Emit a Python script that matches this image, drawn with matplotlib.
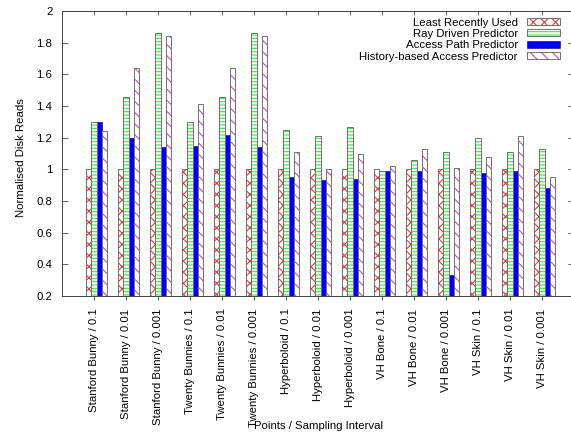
import matplotlib
matplotlib.use('Agg')
import matplotlib.pyplot as plt
from matplotlib.legend_handler import HandlerTuple
import numpy as np

plt.rcParams['font.family'] = ['Liberation Sans', 'DejaVu Sans']
plt.rcParams['hatch.linewidth'] = 0.8

# Datasets / sampling intervals
etiquetas = ['Stanford Bunny / 0.1', 'Stanford Bunny / 0.01', 'Stanford Bunny / 0.001',
             'Twenty Bunnies / 0.1', 'Twenty Bunnies / 0.01', 'Twenty Bunnies / 0.001',
             'Hyperboloid / 0.1', 'Hyperboloid / 0.01', 'Hyperboloid / 0.001',
             'VH Bone / 0.1', 'VH Bone / 0.01', 'VH Bone / 0.001',
             'VH Skin / 0.1', 'VH Skin / 0.01', 'VH Skin / 0.001']

# Disk reads normalised against LRU
lru = [1.0, 1.0, 1.0, 1.0, 1.0, 1.0, 1.0, 1.0, 1.0, 1.0, 1.0, 1.0, 1.0, 1.0, 1.0]
ray_driven = [1.30, 1.46, 1.86, 1.30, 1.46, 1.86, 1.25, 1.21, 1.27, 0.99, 1.06, 1.11, 1.20, 1.11, 1.13]
access_path = [1.30, 1.20, 1.14, 1.15, 1.22, 1.14, 0.95, 0.93, 0.94, 0.99, 0.99, 0.33, 0.98, 0.99, 0.88]
history = [1.24, 1.64, 1.84, 1.41, 1.64, 1.84, 1.11, 1.00, 1.10, 1.02, 1.13, 1.01, 1.08, 1.21, 0.95]

nombres = ['Least Recently Used', 'Ray Driven Predictor', 'Access Path Predictor',
           'History-based Access Predictor']
series = [lru, ray_driven, access_path, history]

# relleno de cada serie: (color del patron, hatch, relleno solido)
estilos = [('#e8383c', 'xxx', None),
           ('#3ee03e', '-----', None),
           (None, None, '#0000f0'),
           ('#d040d0', '\\\\\\', None)]

fig = plt.figure(figsize=(5.71, 4.38), dpi=100)
ax = fig.add_axes([62 / 571, 142 / 438, 512 / 571, 285 / 438])

x = np.arange(len(etiquetas))
ancho = 1 / 6
handles = []
for k, (valores, (col, hatch, solido)) in enumerate(zip(series, estilos)):
    pos = x + (k - 1) * ancho
    if solido:
        b1 = ax.bar(pos, valores, ancho, color=solido, edgecolor='#2a2ab0', linewidth=0.6, zorder=2)
        handles.append(b1)
    else:
        b1 = ax.bar(pos, valores, ancho, color='white', edgecolor=col, hatch=hatch, linewidth=0, zorder=2)
        b2 = ax.bar(pos, valores, ancho, fill=False, edgecolor='#707070', linewidth=0.7, zorder=3)
        handles.append((b1, b2))

ax.set_xlim(-1, 15)
ax.set_ylim(0.2, 2)
ax.set_yticks(np.arange(0.2, 2.01, 0.2))
ax.set_yticklabels(['%g' % round(v, 1) for v in np.arange(0.2, 2.01, 0.2)])
ax.set_xticks(x)
ax.set_xticklabels(etiquetas, rotation=90, ha='center', va='top')

fs = 8.2
ax.tick_params(axis='y', direction='in', left=True, right=True, length=4, width=0.6,
               pad=7, labelsize=fs, color='#444444')
ax.tick_params(axis='x', direction='out', bottom=True, top=False, length=3, width=0.6,
               pad=6, labelsize=fs, color='#444444')
sec = ax.secondary_xaxis('top')
sec.set_xticks(x)
sec.tick_params(direction='in', length=3, width=0.6, labeltop=False, color='#444444')
sec.spines['top'].set_color('#444444')
sec.spines['top'].set_linewidth(0.7)

for s in ax.spines.values():
    s.set_color('#444444')
    s.set_linewidth(0.7)

ax.set_ylabel('Normalised Disk Reads', fontsize=fs)
ax.yaxis.set_label_coords(-0.070, 0.484)
ax.set_xlabel('Points / Sampling Interval', fontsize=fs)
ax.xaxis.set_label_coords(0.5, -0.44)

ax.legend(handles, nombres, loc='upper right', bbox_to_anchor=(560 / 571, 1 - 17.5 / 438),
          bbox_transform=fig.transFigure, frameon=False, markerfirst=False,
          fontsize=fs, handlelength=2.9, handleheight=0.55, handletextpad=0.8,
          labelspacing=0.12, borderpad=0, borderaxespad=0,
          handler_map={tuple: HandlerTuple(ndivide=1)})

plt.savefig('out.png', dpi=100)
